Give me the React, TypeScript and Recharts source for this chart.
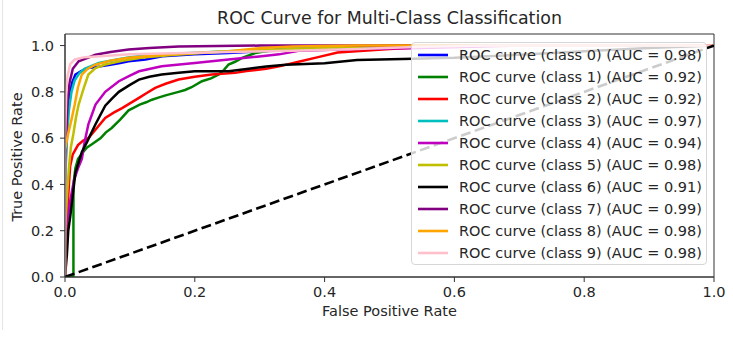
import React from 'react';
import { LineChart, Line, XAxis, YAxis, Legend, ReferenceArea } from 'recharts';

const classLabels = ['0', '1', '2', '3', '4', '5', '6', '7', '8', '9'];
const aucValues = [0.98, 0.92, 0.92, 0.97, 0.94, 0.98, 0.91, 0.99, 0.98, 0.98];
const lineColors = ['#0000ff', '#008000', '#ff0000', '#00bfbf', '#bf00bf', '#bfbf00', '#000000', '#800080', '#ffa500', '#ffc0cb'];

const roc0 = [[0, 0], [0, 0.4], [0.002, 0.6], [0.004, 0.72], [0.007, 0.78], [0.011, 0.84], [0.016, 0.875], [0.025, 0.89], [0.036, 0.903], [0.05, 0.908], [0.072, 0.918], [0.085, 0.925], [0.098, 0.932], [0.124, 0.94], [0.15, 0.954], [0.2, 0.962], [0.252, 0.968], [0.3, 0.975], [0.4, 0.985], [0.5, 0.993], [0.6, 1], [1, 1]];
const roc1 = [[0, 0], [0.013, 0.0], [0.013, 0.4], [0.016, 0.47], [0.02, 0.51], [0.028, 0.54], [0.034, 0.56], [0.042, 0.575], [0.055, 0.6], [0.063, 0.625], [0.072, 0.644], [0.085, 0.68], [0.098, 0.72], [0.107, 0.733], [0.115, 0.745], [0.125, 0.755], [0.134, 0.766], [0.145, 0.776], [0.155, 0.785], [0.175, 0.8], [0.185, 0.808], [0.195, 0.82], [0.211, 0.846], [0.225, 0.858], [0.237, 0.875], [0.245, 0.895], [0.252, 0.918], [0.262, 0.93], [0.273, 0.947], [0.293, 0.968], [0.33, 0.985], [0.42, 0.99], [0.55, 1], [1, 1]];
const roc2 = [[0, 0], [0, 0.1], [0.002, 0.2], [0.004, 0.3], [0.006, 0.4], [0.008, 0.48], [0.012, 0.53], [0.02, 0.57], [0.028, 0.59], [0.036, 0.6], [0.045, 0.63], [0.062, 0.687], [0.075, 0.71], [0.088, 0.73], [0.1, 0.75], [0.114, 0.774], [0.126, 0.795], [0.139, 0.817], [0.155, 0.835], [0.175, 0.853], [0.2, 0.865], [0.226, 0.875], [0.262, 0.882], [0.28, 0.89], [0.31, 0.9], [0.33, 0.91], [0.36, 0.93], [0.39, 0.95], [0.42, 0.97], [0.5, 0.985], [0.6, 1], [1, 1]];
const roc3 = [[0, 0], [0, 0.4], [0.003, 0.6], [0.006, 0.72], [0.01, 0.8], [0.015, 0.85], [0.022, 0.88], [0.03, 0.9], [0.052, 0.925], [0.08, 0.94], [0.1, 0.95], [0.134, 0.96], [0.17, 0.965], [0.25, 0.975], [0.35, 0.985], [0.45, 0.993], [0.55, 1], [1, 1]];
const roc4 = [[0, 0], [0, 0.15], [0.004, 0.25], [0.008, 0.33], [0.014, 0.42], [0.02, 0.47], [0.026, 0.51], [0.03, 0.58], [0.036, 0.66], [0.047, 0.745], [0.062, 0.8], [0.083, 0.846], [0.1, 0.87], [0.114, 0.889], [0.149, 0.911], [0.2, 0.925], [0.252, 0.94], [0.303, 0.954], [0.33, 0.962], [0.36, 0.978], [0.45, 0.985], [0.55, 0.99], [0.7, 1], [1, 1]];
const roc5 = [[0, 0], [0, 0.2], [0.003, 0.35], [0.006, 0.47], [0.009, 0.56], [0.013, 0.62], [0.017, 0.69], [0.021, 0.745], [0.029, 0.817], [0.036, 0.875], [0.047, 0.903], [0.062, 0.918], [0.09, 0.935], [0.12, 0.948], [0.16, 0.958], [0.22, 0.97], [0.3, 0.98], [0.4, 0.99], [0.5, 1], [1, 1]];
const roc6 = [[0, 0], [0.003, 0.1], [0.005, 0.2], [0.008, 0.26], [0.011, 0.33], [0.016, 0.45], [0.026, 0.54], [0.034, 0.584], [0.047, 0.66], [0.062, 0.74], [0.072, 0.77], [0.083, 0.8], [0.1, 0.83], [0.114, 0.853], [0.13, 0.865], [0.149, 0.875], [0.175, 0.883], [0.2, 0.889], [0.252, 0.889], [0.283, 0.9], [0.31, 0.91], [0.34, 0.917], [0.4, 0.924], [0.45, 0.938], [0.52, 0.942], [0.6, 0.947], [0.7, 0.96], [0.8, 0.975], [0.9, 0.99], [1, 1]];
const roc7 = [[0, 0], [0, 0.45], [0.002, 0.62], [0.004, 0.76], [0.007, 0.84], [0.012, 0.9], [0.021, 0.932], [0.047, 0.96], [0.07, 0.972], [0.098, 0.983], [0.13, 0.99], [0.175, 0.996], [0.3, 1], [1, 1]];
const roc8 = [[0, 0], [0, 0.55], [0.005, 0.62], [0.01, 0.68], [0.015, 0.745], [0.02, 0.82], [0.026, 0.875], [0.035, 0.9], [0.047, 0.918], [0.07, 0.935], [0.098, 0.947], [0.15, 0.96], [0.252, 0.975], [0.303, 0.99], [0.35, 0.996], [0.45, 1], [1, 1]];
const roc9 = [[0, 0], [0, 0.6], [0.002, 0.8], [0.004, 0.87], [0.008, 0.92], [0.015, 0.94], [0.03, 0.95], [0.06, 0.955], [0.1, 0.962], [0.15, 0.966], [0.25, 0.972], [0.35, 0.978], [0.45, 0.985], [0.55, 0.995], [0.65, 1], [1, 1]];
const chanceLine = [[0, 0], [1, 1]];

const xTicks = [0, 0.2, 0.4, 0.6, 0.8, 1.0];
const yTicks = [0, 0.2, 0.4, 0.6, 0.8, 1.0];

const rocCurves = [roc0, roc1, roc2, roc3, roc4, roc5, roc6, roc7, roc8, roc9];

const series = rocCurves.map((pts, i) => ({
  name: `ROC curve (class ${classLabels[i]}) (AUC = ${aucValues[i].toFixed(2)})`,
  color: lineColors[i],
  data: pts.map(([x, y]) => ({ fpr: x, tpr: y })),
}));
const chanceData = chanceLine.map(([x, y]) => ({ fpr: x, tpr: y }));

const FONT = '"DejaVu Sans", sans-serif';
const TEXT = '#262626';
const FS = 14.5;

const renderLegend = () => (
  <div
    style={{
      position: 'relative',
      width: 296,
      height: 223,
      boxSizing: 'border-box',
      border: '1px solid #d6d6d6',
      borderRadius: 4,
      background: 'rgba(255,255,255,0.8)',
      fontFamily: FONT,
      fontSize: FS,
      color: TEXT,
    }}
  >
    {series.map((s, i) => (
      <div
        key={s.name}
        style={{ position: 'absolute', left: 0, top: 1 + i * 22.03, height: 22, width: '100%' }}
      >
        <svg width={40} height={22} style={{ position: 'absolute', left: 0, top: 0 }}>
          <line x1={6} x2={36} y1={11} y2={11} stroke={s.color} strokeWidth={2.6} />
        </svg>
        <span style={{ position: 'absolute', left: 47, top: 0, lineHeight: '22px', whiteSpace: 'nowrap' }}>
          {s.name}
        </span>
      </div>
    ))}
  </div>
);

const fmt = (v: number) => v.toFixed(1);

export default function App() {
  return (
    <div style={{ position: 'absolute', left: 0, top: 0, width: 733, height: 340, background: '#fff' }}>
      <div style={{ position: 'absolute', left: 2, top: 0, width: 1, height: 330, background: '#e4e4e4' }} />
      <div
        style={{
          position: 'absolute',
          left: 0,
          top: 8,
          width: 779,
          textAlign: 'center',
          fontFamily: FONT,
          fontSize: 17.4,
          lineHeight: '20px',
          color: TEXT,
        }}
      >
        ROC Curve for Multi-Class Classification
      </div>
      <div style={{ position: 'absolute', left: 0, top: 0 }}>
        <LineChart width={733} height={340} margin={{ top: 34, right: 19, bottom: 0, left: 0 }}>
          <XAxis
            dataKey="fpr"
            type="number"
            domain={[0, 1]}
            ticks={xTicks}
            tickFormatter={fmt}
            height={63}
            allowDataOverflow
            axisLine={{ stroke: '#333' }}
            tickLine={{ stroke: '#333' }}
            tickSize={5}
            tickMargin={5}
            tick={{ fill: TEXT, fontSize: FS, fontFamily: FONT }}
            label={{
              value: 'False Positive Rate',
              position: 'insideTop',
              offset: 29,
              fill: TEXT,
              fontSize: FS,
              fontFamily: FONT,
            }}
          />
          <YAxis
            type="number"
            domain={[0, 1.05]}
            ticks={yTicks}
            tickFormatter={fmt}
            width={65}
            allowDataOverflow
            axisLine={{ stroke: '#333' }}
            tickLine={{ stroke: '#333' }}
            tickSize={5}
            tickMargin={6}
            tick={{ fill: TEXT, fontSize: FS, fontFamily: FONT }}
            label={() => (
              <text
                x={17}
                y={157}
                transform="rotate(-90 17 157)"
                textAnchor="middle"
                dominantBaseline="central"
                fill={TEXT}
                fontSize={FS}
                fontFamily={FONT}
              >
                True Positive Rate
              </text>
            )}
          />
          <ReferenceArea x1={0} x2={1} y1={0} y2={1.05} fill="none" stroke="#333" strokeWidth={1} />
          {series.map((s) => (
            <Line
              key={s.name}
              data={s.data}
              dataKey="tpr"
              name={s.name}
              type="linear"
              stroke={s.color}
              strokeWidth={2.5}
              dot={false}
              activeDot={false}
              isAnimationActive={false}
            />
          ))}
          <Line
            data={chanceData}
            dataKey="tpr"
            name="chance"
            type="linear"
            stroke="#000"
            strokeWidth={2.6}
            strokeDasharray="10 4.5"
            dot={false}
            activeDot={false}
            legendType="none"
            isAnimationActive={false}
          />
          <Legend
            layout="vertical"
            align="center"
            verticalAlign="middle"
            content={renderLegend}
            wrapperStyle={{ position: 'absolute', left: 411, top: 42, width: 296, height: 223 }}
          />
        </LineChart>
      </div>
    </div>
  );
}
